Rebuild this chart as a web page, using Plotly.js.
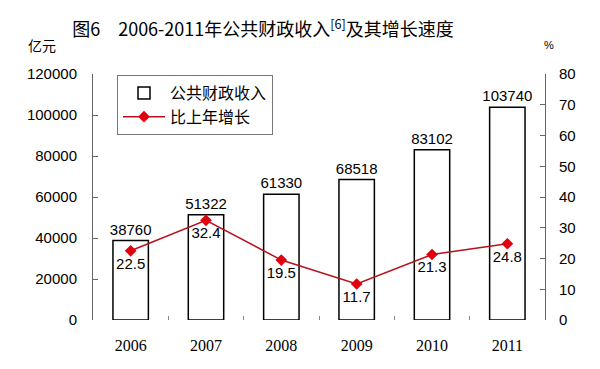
<!DOCTYPE html>
<html><head><meta charset="utf-8">
<script src="https://cdn.plot.ly/plotly-3.0.1.min.js"></script>
<style>html,body{margin:0;padding:0;background:#fff}#c{width:600px;height:369px}</style>
</head><body><div id="c"></div>
<script>
const years = ['2006','2007','2008','2009','2010','2011'];
const revenue = [38760, 51322, 61330, 68518, 83102, 103740];
const growth = [22.5, 32.4, 19.5, 11.7, 21.3, 24.8];
const revenueName = '公共财政收入';
const growthName = '比上年增长';

const cjk = '"Noto Sans CJK SC", sans-serif';
const sans = '"Liberation Sans", Arial, sans-serif';
const serif = '"Liberation Serif", "Times New Roman", serif';

const traces = [
  {type:'bar', x:years, y:revenue, name:revenueName, width:0.47,
   marker:{color:'#ffffff', line:{color:'#000000', width:1.5}},
   text:revenue.map(String), textposition:'outside', cliponaxis:false, constraintext:'none',
   textfont:{family:sans, size:15, color:'#000'},
   outsidetextfont:{family:sans, size:15, color:'#000'}, hoverinfo:'skip'},
  {type:'scatter', mode:'lines+markers+text', x:years, y:growth, yaxis:'y2', name:growthName,
   line:{color:'#b8101c', width:1.5}, marker:{symbol:'diamond', size:9, color:'#e0000e'},
   text:growth.map(v=>v.toFixed(1)), textposition:'bottom center', cliponaxis:false,
   textfont:{family:sans, size:15, color:'#000'}}
];

const layout = {
  width:600, height:369,
  margin:{l:93, r:55, t:74, b:49, pad:0},
  paper_bgcolor:'#fff', plot_bgcolor:'#fff',
  showlegend:true,
  title:{text:'图6　2006-2011年公共财政收入<sup>[6]</sup>及其增长速度',
         font:{family:cjk, size:18, color:'#000'},
         x:263/600, xanchor:'center', y:1-30/369, yanchor:'middle'},
  xaxis:{type:'category', showgrid:false, zeroline:false, showline:false,
         ticks:'inside', ticklen:4, tickcolor:'#888', tickson:'boundaries',
         tickfont:{family:serif, size:16, color:'#000'}, ticklabelstandoff:14},
  yaxis:{range:[0,120000], dtick:20000, tickformat:'d', showgrid:false, zeroline:false,
         showline:true, linecolor:'#666', linewidth:1,
         ticks:'inside', ticklen:5, tickcolor:'#666',
         tickfont:{family:sans, size:15, color:'#000'}, ticklabelstandoff:12},
  yaxis2:{range:[0,80], dtick:10, tickformat:'d', overlaying:'y', side:'right', showgrid:false, zeroline:false,
          showline:true, linecolor:'#666', linewidth:1,
          ticks:'inside', ticklen:5, tickcolor:'#666',
          tickfont:{family:sans, size:15, color:'#000'}, ticklabelstandoff:10},
  legend:{x:(117-93)/452, xanchor:'left', y:(320-75)/246, yanchor:'top',
          bgcolor:'#fff', bordercolor:'#777', borderwidth:1, itemwidth:42,
          font:{family:cjk, size:16, color:'#000'}, tracegroupgap:0},
  annotations:[
    {text:'亿元', xref:'paper', yref:'paper', x:(42-93)/452, y:(320-45)/246,
     xanchor:'center', yanchor:'middle', showarrow:false, font:{family:cjk, size:14, color:'#000'}},
    {text:'%', xref:'paper', yref:'paper', x:(549-93)/452, y:(320-45)/246,
     xanchor:'center', yanchor:'middle', showarrow:false, font:{family:sans, size:11, color:'#000'}}
  ]
};
Plotly.newPlot('c', traces, layout, {displayModeBar:false, staticPlot:true});
</script></body></html>
